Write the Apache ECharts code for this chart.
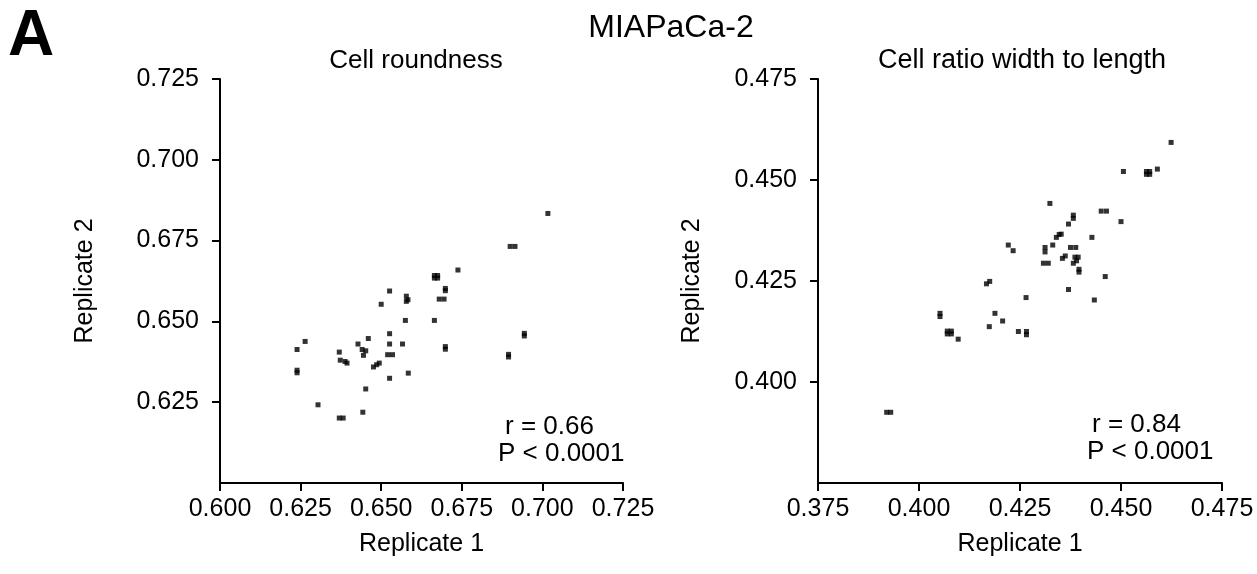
<!DOCTYPE html>
<html>
<head>
<meta charset="utf-8">
<script src="https://cdn.jsdelivr.net/npm/echarts@6/dist/echarts.min.js"></script>
<style>
html,body{margin:0;padding:0;background:#fff;}
#chart{width:1257px;height:574px;}
</style>
</head>
<body>
<div id="chart"></div>
<script>
// ---- Data ----
const panelLabel = 'A';
const mainTitle = 'MIAPaCa-2';
const leftTitle = 'Cell roundness';
const rightTitle = 'Cell ratio width to length';
const xAxisName = 'Replicate 1';
const yAxisName = 'Replicate 2';

const leftTicks = [0.600, 0.625, 0.650, 0.675, 0.700, 0.725];
const rightTicks = [0.375, 0.400, 0.425, 0.450, 0.475];

// Cell roundness: replicate 1 (x) and replicate 2 (y)
const roundnessRep1 = [
  0.7017, 0.6900, 0.6915, 0.6738, 0.6665, 0.6675, 0.6665, 0.6675,
  0.6699, 0.6699, 0.6680, 0.6695, 0.6526, 0.6500, 0.6578, 0.6583, 0.6578,
  0.6575, 0.6665, 0.6526, 0.6526, 0.6566, 0.6520, 0.6535, 0.6699, 0.6699,
  0.6584, 0.6526, 0.6944, 0.6944, 0.6895, 0.6895, 0.6239, 0.6264,
  0.6239, 0.6239, 0.6304, 0.6370, 0.6382, 0.6443, 0.6452, 0.6370,
  0.6373, 0.6388, 0.6394, 0.6428, 0.6460, 0.6441, 0.6452, 0.6445,
  0.6476, 0.6486, 0.6494
];
const roundnessRep2 = [
  0.6834, 0.6732, 0.6732, 0.6659, 0.6642, 0.6642, 0.6634, 0.6634,
  0.6602, 0.6595, 0.6569, 0.6569, 0.6594, 0.6553, 0.6578, 0.6567, 0.6562,
  0.6503, 0.6503, 0.6462, 0.6430, 0.6430, 0.6397, 0.6397, 0.6422, 0.6414,
  0.6340, 0.6324, 0.6463, 0.6455, 0.6398, 0.6390, 0.6413, 0.6438,
  0.6349, 0.6341, 0.6242, 0.6201, 0.6201, 0.6219, 0.6291, 0.6405,
  0.6380, 0.6376, 0.6371, 0.6430, 0.6447, 0.6413, 0.6409, 0.6395,
  0.6359, 0.6366, 0.6371
];

// Cell ratio width to length: replicate 1 (x) and replicate 2 (y)
const ratioRep1 = [
  0.4624, 0.4590, 0.4563, 0.4571, 0.4563, 0.4571, 0.4506, 0.4500,
  0.4451, 0.4464, 0.4324, 0.4382, 0.4382, 0.4370, 0.4340, 0.4347, 0.4352,
  0.4428, 0.4331, 0.4312, 0.4312, 0.4375, 0.4388, 0.4355, 0.4362,
  0.4386, 0.4394, 0.4390, 0.4382, 0.4308, 0.4320, 0.4396, 0.4396,
  0.4461, 0.4370, 0.4434, 0.4221, 0.4233, 0.4167, 0.4175, 0.4265,
  0.4188, 0.4207, 0.4174, 0.4246, 0.4266, 0.4266, 0.4052, 0.4052,
  0.4070, 0.4080, 0.4070, 0.4080, 0.4097, 0.3920, 0.3930
];
const ratioRep2 = [
  0.4593, 0.4527, 0.4521, 0.4521, 0.4514, 0.4514, 0.4521, 0.4397,
  0.4423, 0.4423, 0.4442, 0.4413, 0.4405, 0.4391, 0.4358, 0.4365, 0.4366,
  0.4358, 0.4339, 0.4333, 0.4322, 0.4333, 0.4333, 0.4306, 0.4312,
  0.4309, 0.4309, 0.4300, 0.4294, 0.4294, 0.4294, 0.4279, 0.4272,
  0.4261, 0.4229, 0.4203, 0.4339, 0.4325, 0.4243, 0.4249, 0.4209,
  0.4170, 0.4151, 0.4137, 0.4125, 0.4125, 0.4117, 0.4170, 0.4162,
  0.4126, 0.4126, 0.4119, 0.4119, 0.4106, 0.3925, 0.3925
];

const statsLeft = ['r = 0.66', 'P < 0.0001'];
const statsRight = ['r = 0.84', 'P < 0.0001'];

// ---- Build ----
const FONT = '"Liberation Sans", Arial, sans-serif';
const zip = (a, b) => a.map((v, i) => [v, b[i]]);
const fmt = v => Number(v).toFixed(3);

function axisCommon(ticks) {
  return {
    type: 'value',
    min: ticks[0],
    max: ticks[ticks.length - 1],
    interval: 0.025,
    splitLine: { show: false },
    axisLine: { show: true, onZero: false, lineStyle: { color: '#000', width: 2 } },
    axisTick: { show: true, length: 8, lineStyle: { color: '#000', width: 2 } },
    axisLabel: { color: '#000', fontSize: 25, fontFamily: FONT, formatter: fmt },
    nameTextStyle: { color: '#000', fontSize: 25, fontFamily: FONT },
    nameLocation: 'middle'
  };
}

function xAxis(ticks, gridIndex) {
  const a = axisCommon(ticks);
  a.gridIndex = gridIndex;
  a.name = xAxisName;
  a.nameGap = 49;
  a.axisLabel.margin = 14;
  return a;
}
function yAxis(ticks, gridIndex, gap) {
  const a = axisCommon(ticks);
  a.gridIndex = gridIndex;
  a.name = yAxisName;
  a.nameGap = gap;
  a.nameRotate = 90;
  a.axisLabel.margin = 21;
  a.axisLabel.showMinLabel = false;
  return a;
}

const txt = (x, y, text, size, align, weight) => ({
  type: 'text', x: x, y: y,
  style: { text: text, fill: '#000', fontSize: size, fontFamily: FONT,
           fontWeight: weight || 'normal', align: align || 'left', verticalAlign: 'middle' }
});

const option = {
  animation: false,
  backgroundColor: '#fff',
  grid: [
    { left: 220, top: 79, width: 403, height: 404 },
    { left: 818, top: 79, width: 404, height: 404 }
  ],
  xAxis: [xAxis(leftTicks, 0), xAxis(rightTicks, 1)],
  yAxis: [yAxis(leftTicks, 0, 122), yAxis(rightTicks, 1, 113)],
  series: [
    { type: 'scatter', xAxisIndex: 0, yAxisIndex: 0, data: zip(roundnessRep1, roundnessRep2),
      symbol: 'rect', symbolSize: [5, 5], itemStyle: { color: '#000' } },
    { type: 'scatter', xAxisIndex: 1, yAxisIndex: 1, data: zip(ratioRep1, ratioRep2),
      symbol: 'rect', symbolSize: [5, 5], itemStyle: { color: '#000' } }
  ],
  graphic: [
    txt(8, 37, panelLabel, 64, 'left', 'bold'),
    txt(671, 28, mainTitle, 32, 'center'),
    txt(416, 61, leftTitle, 26, 'center'),
    txt(1022, 61, rightTitle, 27, 'center'),
    txt(505, 427, statsLeft[0], 26, 'left'),
    txt(498, 454, statsLeft[1], 26, 'left'),
    txt(1092, 425, statsRight[0], 26, 'left'),
    txt(1087, 452, statsRight[1], 26, 'left')
  ]
};

const chart = echarts.init(document.getElementById('chart'), null, { renderer: 'canvas' });
chart.setOption(option);
</script>
</body>
</html>
